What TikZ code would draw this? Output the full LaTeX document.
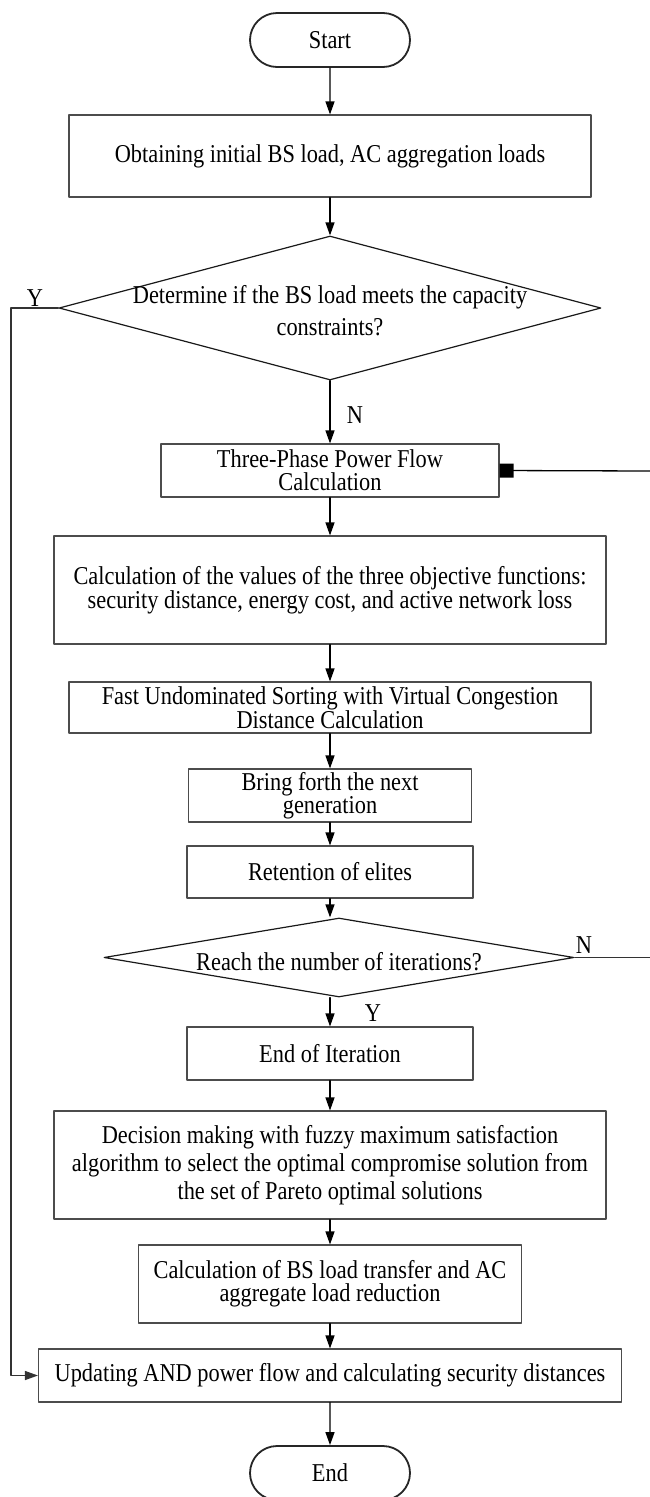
\documentclass[tikz,border=0pt]{standalone}
\usepackage{fontspec}
\setmainfont{Liberation Serif}[FakeStretch=0.87]
\usetikzlibrary{shapes.geometric,shapes.misc,arrows.meta}

\begin{document}
\begin{tikzpicture}[x=1pt,y=-1pt,font=\fontsize{25.7}{23}\selectfont, line cap=round, line join=round]

% ---------- styles ----------
\tikzset{
  proc/.style={draw=black!70, line width=1.1pt, align=center, inner sep=2pt},
  term/.style={draw=black!85, rounded rectangle, line width=1.8pt, minimum width=160, minimum height=54, inner sep=0pt},
  decision/.style={draw=black!90, diamond, line width=1.2pt, inner sep=0pt},
  dtext/.style={align=center, inner sep=0pt},
  arr/.style={-{Triangle[length=13pt,width=9pt]}, line width=1.2pt},
  link/.style={draw=black!80, line width=1.3pt},
  yn/.style={inner sep=0pt},
}

% ---------- canvas ----------
\useasboundingbox (0,0) rectangle (650,1497);

% ---------- terminals ----------
\node[term] (start) at (330,40) {Start};
\node[term] (stop)  at (330,1473) {End};

% ---------- process boxes ----------
\node[proc, minimum width=522, minimum height=82] (b1) at (330,156)
  {Obtaining initial BS load, AC aggregation loads};

\node[proc, minimum width=338, minimum height=53] (b2) at (330,470.5)
  {Three-Phase Power Flow\\ Calculation};

\node[proc, minimum width=552, minimum height=108] (b3) at (330,590)
  {Calculation of the values of the three objective functions:\\
   security distance, energy cost, and active network loss};

\node[proc, minimum width=522, minimum height=51] (b4) at (330,707.5)
  {Fast Undominated Sorting with Virtual Congestion\\ Distance Calculation};

\node[proc, minimum width=283, minimum height=53] (b5) at (330,795.5)
  {Bring forth the next\\ generation};

\node[proc, minimum width=286, minimum height=52] (b6) at (330,872)
  {Retention of elites};

\node[proc, minimum width=286, minimum height=53] (b7) at (330,1053.5)
  {End of Iteration};

\node[proc, minimum width=552, minimum height=108] (b8) at (330,1165)
  {Decision making with fuzzy maximum satisfaction\\[3.5pt]
   algorithm to select the optimal compromise solution from\\[3.5pt]
   the set of Pareto optimal solutions};

\node[proc, minimum width=383, minimum height=78] (b9) at (330,1284)
  {Calculation of BS load transfer and AC\\ aggregate load reduction};

\node[proc, minimum width=583, minimum height=53] (b10) at (330,1375.5)
  {Updating AND power flow and calculating security distances};

% ---------- decisions ----------
\node[decision, minimum width=542, minimum height=144,
  label={[dtext, yshift=-3pt]center:{Determine if the BS load meets the capacity\\[9pt] constraints?}}]
  (d1) at (330,308) {};

\node[decision, minimum width=470, minimum height=79,
  label={[dtext, yshift=-4pt]center:{Reach the number of iterations?}}]
  (d2) at (339,957.5) {};

% ---------- free ends ----------
\coordinate (yl)  at (11,308);
\coordinate (rn1) at (650,471);
\coordinate (rn2) at (650,957.5);

% ---------- main flow ----------
\draw[arr] (start) -- (b1);
\draw[arr] (b1) -- (d1);
\draw[arr] (d1) -- (b2);
\draw[arr] (b2) -- (b3);
\draw[arr] (b3) -- (b4);
\draw[arr] (b4) -- (b5);
\draw[arr] (b5) -- (b6);
\draw[arr] (b6) -- (b6 |- d2.north);
\draw[arr] (d2.south -| b7) -- (b7);
\draw[arr] (b7) -- (b8);
\draw[arr] (b8) -- (b9);
\draw[arr] (b9) -- (b10);
\draw[arr] (b10) -- (stop);

% ---------- side branches ----------
\draw[arr, link] (d1.west) -- (yl) |- (b10.west);
\draw[link, draw=black, {Square[length=14pt,width=14pt]}-] (b2.east) -- (rn1);
\draw[link] (d2.east) -- (rn2);

% ---------- branch labels ----------
\node[yn] (ly1) at (35,298) {Y};
\node[yn] (ln1) at (355,415) {N};
\node[yn] (ln2) at (584,945) {N};
\node[yn] (ly2) at (373,1013) {Y};

\end{tikzpicture}
\end{document}
